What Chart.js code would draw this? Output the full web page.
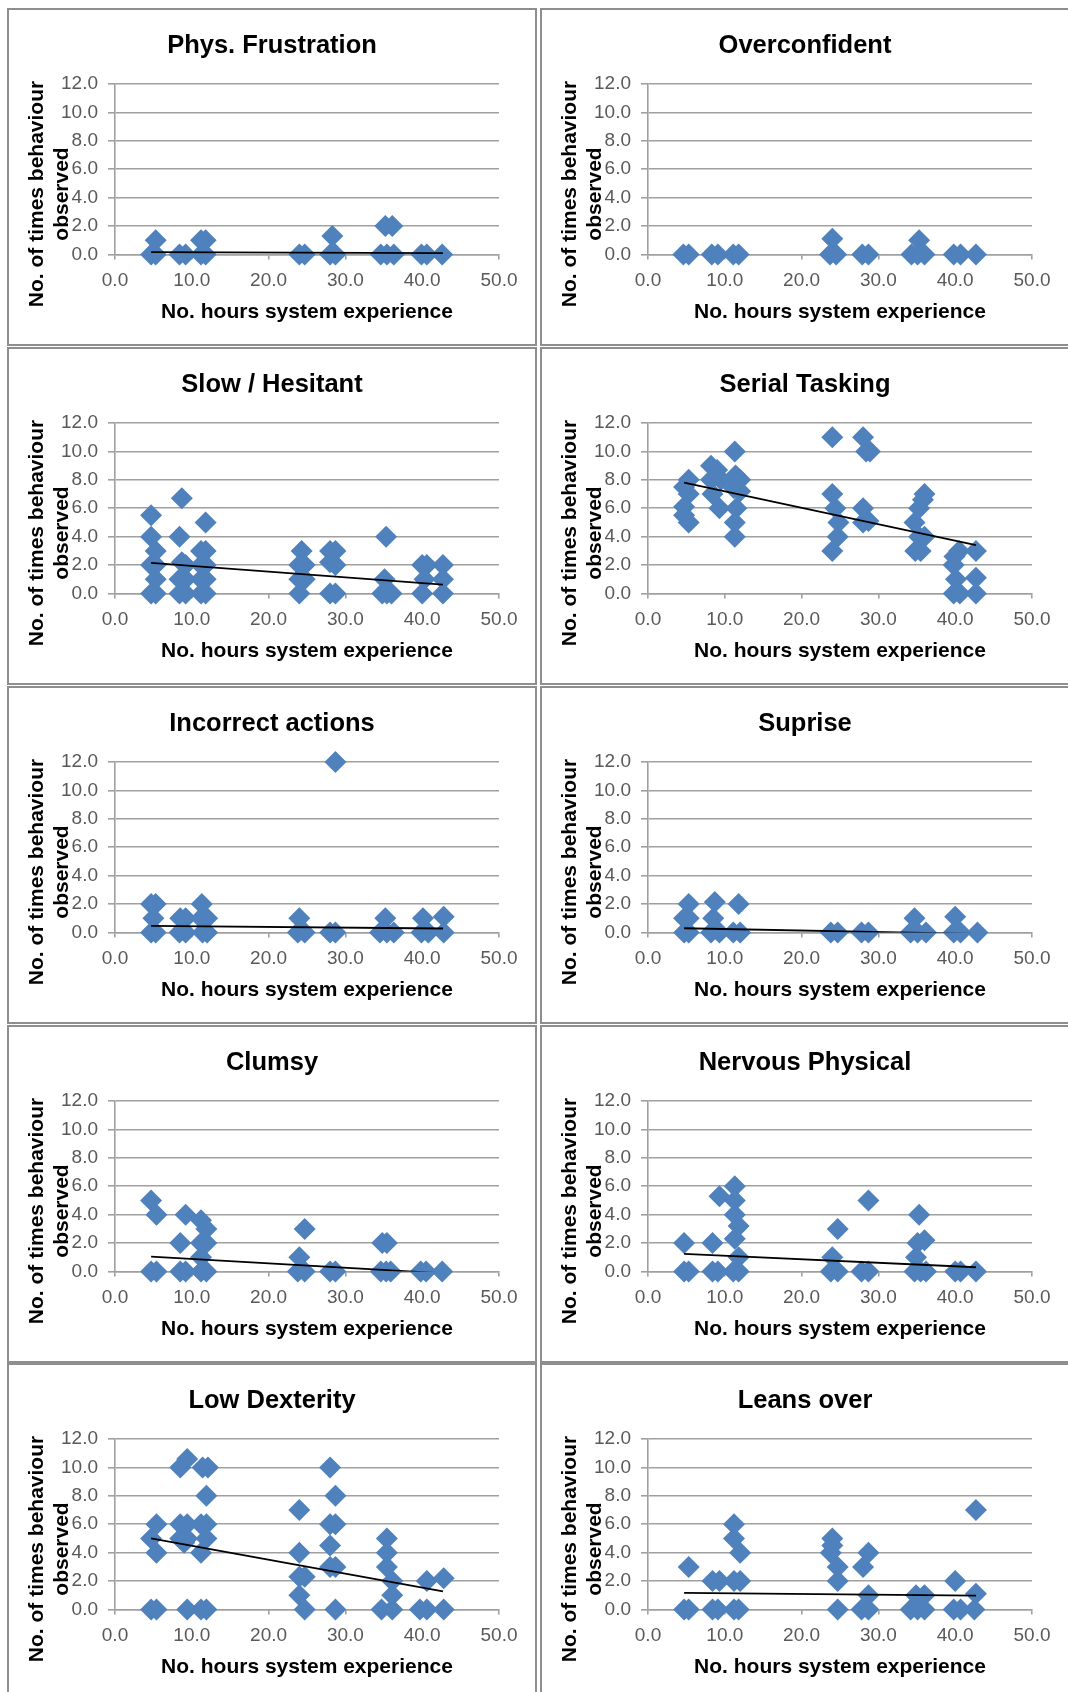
<!DOCTYPE html>
<html>
<head>
<meta charset="utf-8">
<title>Behaviour observed vs. system experience</title>
<script src="https://cdn.jsdelivr.net/npm/chart.js@4.4.1/dist/chart.umd.min.js"></script>
<style>
  html, body { margin: 0; padding: 0; background: #ffffff; }
  body { width: 1068px; height: 1692px; position: relative; overflow: hidden; }
  .panel {
    position: absolute;
    width: 530px;
    height: 338px;
    box-sizing: border-box;
    border: 2px solid #8e8e8e;
    background: #ffffff;
  }
  .panel canvas { display: block; }
</style>
</head>
<body>
<script>
// ---- Axis ticks ----
const xTickValues = [0, 10, 20, 30, 40, 50];
const yTickValues = [0, 2, 4, 6, 8, 10, 12];

const xAxisTitle = 'No. hours system experience';
const yAxisTitleLines = ['No. of times behaviour', 'observed'];

// x range covered by every linear trendline (first / last participant)
const trendHours = [4.7, 42.7];

// ---- Phys. Frustration ----
const physFrustrationHours  = [4.7, 5.3, 5.3, 8.4, 9.2, 11.2, 11.8, 11.2, 11.8, 24.0, 24.7, 28.0, 28.7, 28.3, 35.2, 36.1, 34.6, 35.4, 36.3, 39.9, 40.6, 42.6];
const physFrustrationCounts = [0,   0,   1,   0,   0,   1,    1,    0,    0,    0,    0,    0,    0,    1.3,  2,    2,    0,    0,    0,    0,    0,    0];
const physFrustrationTrend  = [0.17, 0.1];

// ---- Overconfident ----
const overconfidentHours  = [4.6, 5.3, 8.3, 9.1, 11.1, 11.8, 24.0, 23.7, 24.5, 27.9, 28.7, 35.3, 34.3, 35.1, 36.0, 39.8, 40.7, 42.7];
const overconfidentCounts = [0,   0,   0,   0,   0,    0,    1.1,  0,    0,    0,    0,    1.0,  0,    0,    0,    0,    0,    0];
const overconfidentTrend  = null;

// ---- Slow / Hesitant ----
const slowHesitantHours  = [4.7, 4.7, 5.3, 4.7, 5.3, 5.3, 5.3, 4.7,
                            8.7, 8.4, 8.7, 9.2, 8.4, 9.2, 8.4, 9.2,
                            11.8, 11.2, 11.8, 11.2, 11.8, 11.2, 11.8, 11.2, 11.8,
                            24.3, 24.0, 24.7, 24.0, 24.7, 24.0,
                            28.0, 28.7, 28.0, 28.7, 28.0, 28.7,
                            35.3, 35.1, 34.8, 35.4, 36.0,
                            40.0, 40.6, 40.3, 40.0,
                            42.7, 42.7, 42.7];
const slowHesitantCounts = [5.5, 4, 3, 2, 2, 1, 0, 0,
                            6.7, 4, 2.2, 2, 1, 1, 0, 0,
                            5, 3, 3, 2, 2, 1, 1, 0, 0,
                            3, 2, 2, 1, 1, 0,
                            3, 3, 2.2, 2, 0, 0,
                            4, 1, 0, 0, 0,
                            2, 2, 1, 0,
                            2, 1, 0];
const slowHesitantTrend  = [2.16, 0.63];

// ---- Serial Tasking ----
const serialTaskingHours  = [5.3, 4.7, 5.3, 4.7, 4.7, 5.3,
                             8.2, 9.0, 8.2, 9.5, 8.4, 9.3,
                             11.3, 11.4, 12.0, 11.2, 12.0, 11.5, 11.3, 11.3,
                             24.0, 24.0, 24.4, 24.8, 24.7, 24.0,
                             28.0, 28.4, 28.9, 28.0, 28.7, 28.0,
                             34.7, 35.3, 36.0, 35.8, 35.3, 36.0, 34.8, 35.5,
                             39.9, 40.5, 39.8, 40.1, 39.8, 40.6,
                             42.7, 42.7, 42.7];
const serialTaskingCounts = [8, 7.5, 7, 6.1, 5.5, 5,
                             9, 8.7, 8, 8, 7, 6,
                             10, 8.3, 8, 7.4, 7.2, 6, 5, 4,
                             11, 7, 6, 5, 4, 3,
                             11, 10, 10, 6, 5.1, 5,
                             5, 6, 7, 6.6, 4, 4, 3, 3,
                             2.6, 3, 2, 1, 0, 0,
                             3, 1.1, 0];
const serialTaskingTrend  = [7.8, 3.4];

// ---- Incorrect actions ----
const incorrectActionsHours  = [28.7,
                                4.7, 5.3, 5.0, 4.7, 5.3,
                                8.5, 9.2, 8.4, 9.2,
                                11.3, 11.2, 12.0, 11.4, 12.0,
                                24.0, 23.8, 24.7,
                                28.0, 28.7,
                                35.2, 34.5, 35.4, 36.3,
                                40.1, 39.9, 40.8,
                                42.8, 42.8];
const incorrectActionsCounts = [12,
                                2, 2, 1, 0, 0,
                                1, 1, 0, 0,
                                2, 1, 1, 0, 0,
                                1, 0, 0,
                                0, 0,
                                1, 0, 0, 0,
                                1, 0, 0,
                                1.1, 0];
const incorrectActionsTrend  = [0.47, 0.28];

// ---- Suprise ----
const supriseHours  = [5.3, 4.7, 5.3, 4.7, 5.3,
                       8.7, 8.5, 8.2, 9.3,
                       11.8, 11.1, 12.0,
                       23.8, 24.7,
                       27.8, 28.7,
                       34.7, 34.2, 35.1, 36.2,
                       40.0, 39.8, 40.7,
                       42.9];
const supriseCounts = [2, 1, 1, 0, 0,
                       2.15, 1, 0, 0,
                       2, 0, 0,
                       0, 0,
                       0, 0,
                       1, 0, 0, 0,
                       1.1, 0, 0,
                       0];
const supriseTrend  = [0.3, -0.1];

// ---- Clumsy ----
const clumsyHours  = [4.7, 5.4, 4.7, 5.4,
                      9.2, 8.5, 8.5, 9.2,
                      11.2, 11.9, 11.2, 11.9, 11.2, 11.2, 11.9,
                      24.7, 24.0, 23.8, 24.7,
                      28.0, 28.7,
                      34.8, 35.4, 34.6, 35.3, 35.9,
                      39.8, 40.5,
                      42.6];
const clumsyCounts = [5, 4, 0, 0,
                      4, 2, 0, 0,
                      3.6, 3, 2, 2, 1, 0, 0,
                      3, 1, 0, 0,
                      0, 0,
                      2, 2, 0, 0, 0,
                      0, 0,
                      0];
const clumsyTrend  = [1.05, -0.13];

// ---- Nervous Physical ----
const nervousPhysicalHours  = [4.7, 4.7, 5.3,
                               9.3, 8.4, 8.4, 9.1,
                               11.3, 11.3, 11.3, 11.8, 11.3, 11.8, 11.1, 11.8,
                               24.7, 24.0, 23.8, 24.7,
                               28.7, 27.8, 28.7,
                               35.3, 35.1, 36.0, 34.9, 34.7, 35.5, 36.2,
                               40.0, 40.7,
                               42.7];
const nervousPhysicalCounts = [2, 0, 0,
                               5.3, 2, 0, 0,
                               6, 5, 4, 3.2, 2.3, 1, 0, 0,
                               3, 1, 0, 0,
                               5, 0, 0,
                               4, 2, 2.2, 1, 0, 0, 0,
                               0, 0,
                               0];
const nervousPhysicalTrend  = [1.24, 0.3];

// ---- Low Dexterity ----
const lowDexterityHours  = [5.4, 4.7, 5.4, 4.7, 5.4,
                            9.4, 8.5, 8.5, 9.4, 8.5, 9.4, 9.0, 9.4,
                            11.4, 12.1, 11.9, 11.2, 11.9, 11.9, 11.2, 11.2, 11.9,
                            24.0, 24.0, 24.0, 24.7, 24.0, 24.7,
                            28.0, 28.7, 28.0, 28.7, 28.0, 28.0, 28.7, 28.7,
                            35.4, 35.4, 35.4, 36.1, 36.1, 34.7, 36.1,
                            40.6, 39.7, 40.6,
                            42.8, 42.8];
const lowDexterityCounts = [6, 5, 4, 0, 0,
                            10.6, 10, 6, 6, 5, 5, 4.7, 0,
                            10, 10, 8, 6, 6, 5, 4, 0, 0,
                            7, 4, 2.3, 2.3, 1, 0,
                            10, 8, 6, 6, 4.5, 3, 3, 0,
                            5, 4, 3, 2, 1, 0, 0,
                            2, 0, 0,
                            2.2, 0];
const lowDexterityTrend  = [5.0, 1.28];

// ---- Leans over ----
const leansOverHours  = [5.3, 4.7, 5.3,
                         8.4, 9.3, 8.4, 9.1,
                         11.2, 11.2, 12.0, 11.2, 12.0, 11.2, 11.8,
                         24.0, 24.0, 23.8, 24.7, 24.7, 24.7,
                         28.0, 28.7, 28.7, 27.8, 28.7,
                         34.9, 36.0, 34.2, 35.1, 36.0,
                         40.0, 39.8, 40.7,
                         42.7, 42.7, 42.5];
const leansOverCounts = [3, 0, 0,
                         2, 2, 0, 0,
                         6, 5, 4, 2, 2, 0, 0,
                         5, 4.5, 4, 3, 2, 0,
                         3, 4, 1, 0, 0,
                         1, 1, 0, 0, 0,
                         2, 0, 0,
                         7, 1.1, 0];
const leansOverTrend  = [1.17, 0.98];

// ---- Panel order (two columns, five rows) ----
const panelTitles = ['Phys. Frustration', 'Overconfident', 'Slow / Hesitant', 'Serial Tasking',
                     'Incorrect actions', 'Suprise', 'Clumsy', 'Nervous Physical',
                     'Low Dexterity', 'Leans over'];
const panelHours  = [physFrustrationHours, overconfidentHours, slowHesitantHours, serialTaskingHours,
                     incorrectActionsHours, supriseHours, clumsyHours, nervousPhysicalHours,
                     lowDexterityHours, leansOverHours];
const panelCounts = [physFrustrationCounts, overconfidentCounts, slowHesitantCounts, serialTaskingCounts,
                     incorrectActionsCounts, supriseCounts, clumsyCounts, nervousPhysicalCounts,
                     lowDexterityCounts, leansOverCounts];
const panelTrends = [physFrustrationTrend, overconfidentTrend, slowHesitantTrend, serialTaskingTrend,
                     incorrectActionsTrend, supriseTrend, clumsyTrend, nervousPhysicalTrend,
                     lowDexterityTrend, leansOverTrend];

// ---- Layout & style ----
const FONT = '"Liberation Sans", Arial, Helvetica, sans-serif';
const colLeft = [7, 540];
const rowTop = [8, 347, 686, 1025, 1363];
const CANVAS_W = 526, CANVAS_H = 334;
const GRID = '#a0a0a0';
const MARKER = '#4f81bd';

// Two-line rotated caption for the value axis, overlapping the tick column
const yCaption = {
  id: 'yCaption',
  afterDraw(chart, args, opts) {
    const ctx = chart.ctx;
    ctx.save();
    ctx.font = 'bold 21px ' + FONT;
    ctx.fillStyle = '#000000';
    ctx.textAlign = 'center';
    ctx.textBaseline = 'middle';
    opts.lines.forEach((line, i) => {
      ctx.save();
      ctx.translate(opts.x + i * opts.spacing, opts.y);
      ctx.rotate(-Math.PI / 2);
      ctx.fillText(line, 0, 0);
      ctx.restore();
    });
    ctx.restore();
  }
};

panelTitles.forEach((title, idx) => {
  const panel = document.createElement('div');
  panel.className = 'panel';
  panel.style.left = colLeft[idx % 2] + 'px';
  panel.style.top = rowTop[Math.floor(idx / 2)] + 'px';
  const canvas = document.createElement('canvas');
  canvas.width = CANVAS_W;
  canvas.height = CANVAS_H;
  panel.appendChild(canvas);
  document.body.appendChild(panel);

  const hours = panelHours[idx];
  const counts = panelCounts[idx];
  const trend = panelTrends[idx];

  const datasets = [];
  if (trend) {
    datasets.push({
      type: 'line',
      data: trendHours.map((h, i) => ({ x: h, y: trend[i] })),
      borderColor: '#000000',
      borderWidth: 1.8,
      pointRadius: 0,
      fill: false,
      tension: 0,
      clip: 0
    });
  }
  datasets.push({
    type: 'scatter',
    data: hours.map((h, i) => ({ x: h, y: counts[i] })),
    pointStyle: 'rectRot',
    pointRadius: 11,
    backgroundColor: MARKER,
    borderColor: MARKER,
    borderWidth: 0,
    clip: false
  });

  new Chart(canvas, {
    type: 'scatter',
    data: { datasets },
    options: {
      responsive: false,
      animation: false,
      events: [],
      layout: { padding: 0 },
      plugins: {
        legend: { display: false },
        tooltip: { enabled: false },
        title: {
          display: true,
          text: title,
          color: '#000000',
          font: { family: FONT, size: 25.5, weight: 'bold' },
          padding: { top: 20.2, bottom: 23.2 }
        },
        yCaption: { lines: yAxisTitleLines, x: 28.5, y: 184, spacing: 25 }
      },
      scales: {
        x: {
          type: 'linear',
          position: 'bottom',
          min: 0,
          max: 50,
          afterBuildTicks: s => { s.ticks = xTickValues.map(v => ({ value: v })); },
          afterFit: s => { s.height = 89.5; },
          ticks: {
            padding: 10,
            color: '#595959',
            font: { family: FONT, size: 19 },
            maxRotation: 0,
            autoSkip: false,
            callback: v => Number(v).toFixed(1)
          },
          grid: { drawOnChartArea: false, drawTicks: true, tickLength: 5, color: GRID, lineWidth: 1.6 },
          border: { display: true, color: GRID, width: 1.6 },
          title: {
            display: true,
            text: xAxisTitle,
            color: '#000000',
            font: { family: FONT, size: 21, weight: 'bold' },
            padding: { top: 0, bottom: 18.7 }
          }
        },
        y: {
          type: 'linear',
          position: 'left',
          min: 0,
          max: 12,
          afterBuildTicks: s => { s.ticks = yTickValues.map(v => ({ value: v })); },
          afterFit: s => { s.width = 106; },
          ticks: {
            padding: 10,
            color: '#595959',
            font: { family: FONT, size: 19 },
            callback: v => Number(v).toFixed(1)
          },
          grid: { drawTicks: true, tickLength: 7, color: GRID, lineWidth: 1.6 },
          border: { display: true, color: GRID, width: 1.6 }
        },
        // empty right-hand margin so the title centres on the whole panel
        rightMargin: {
          type: 'linear',
          position: 'right',
          min: 0,
          max: 1,
          afterFit: s => { s.width = 36; },
          ticks: { display: false },
          grid: { display: false, drawTicks: false },
          border: { display: false }
        }
      }
    },
    plugins: [yCaption]
  });
});
</script>
</body>
</html>
